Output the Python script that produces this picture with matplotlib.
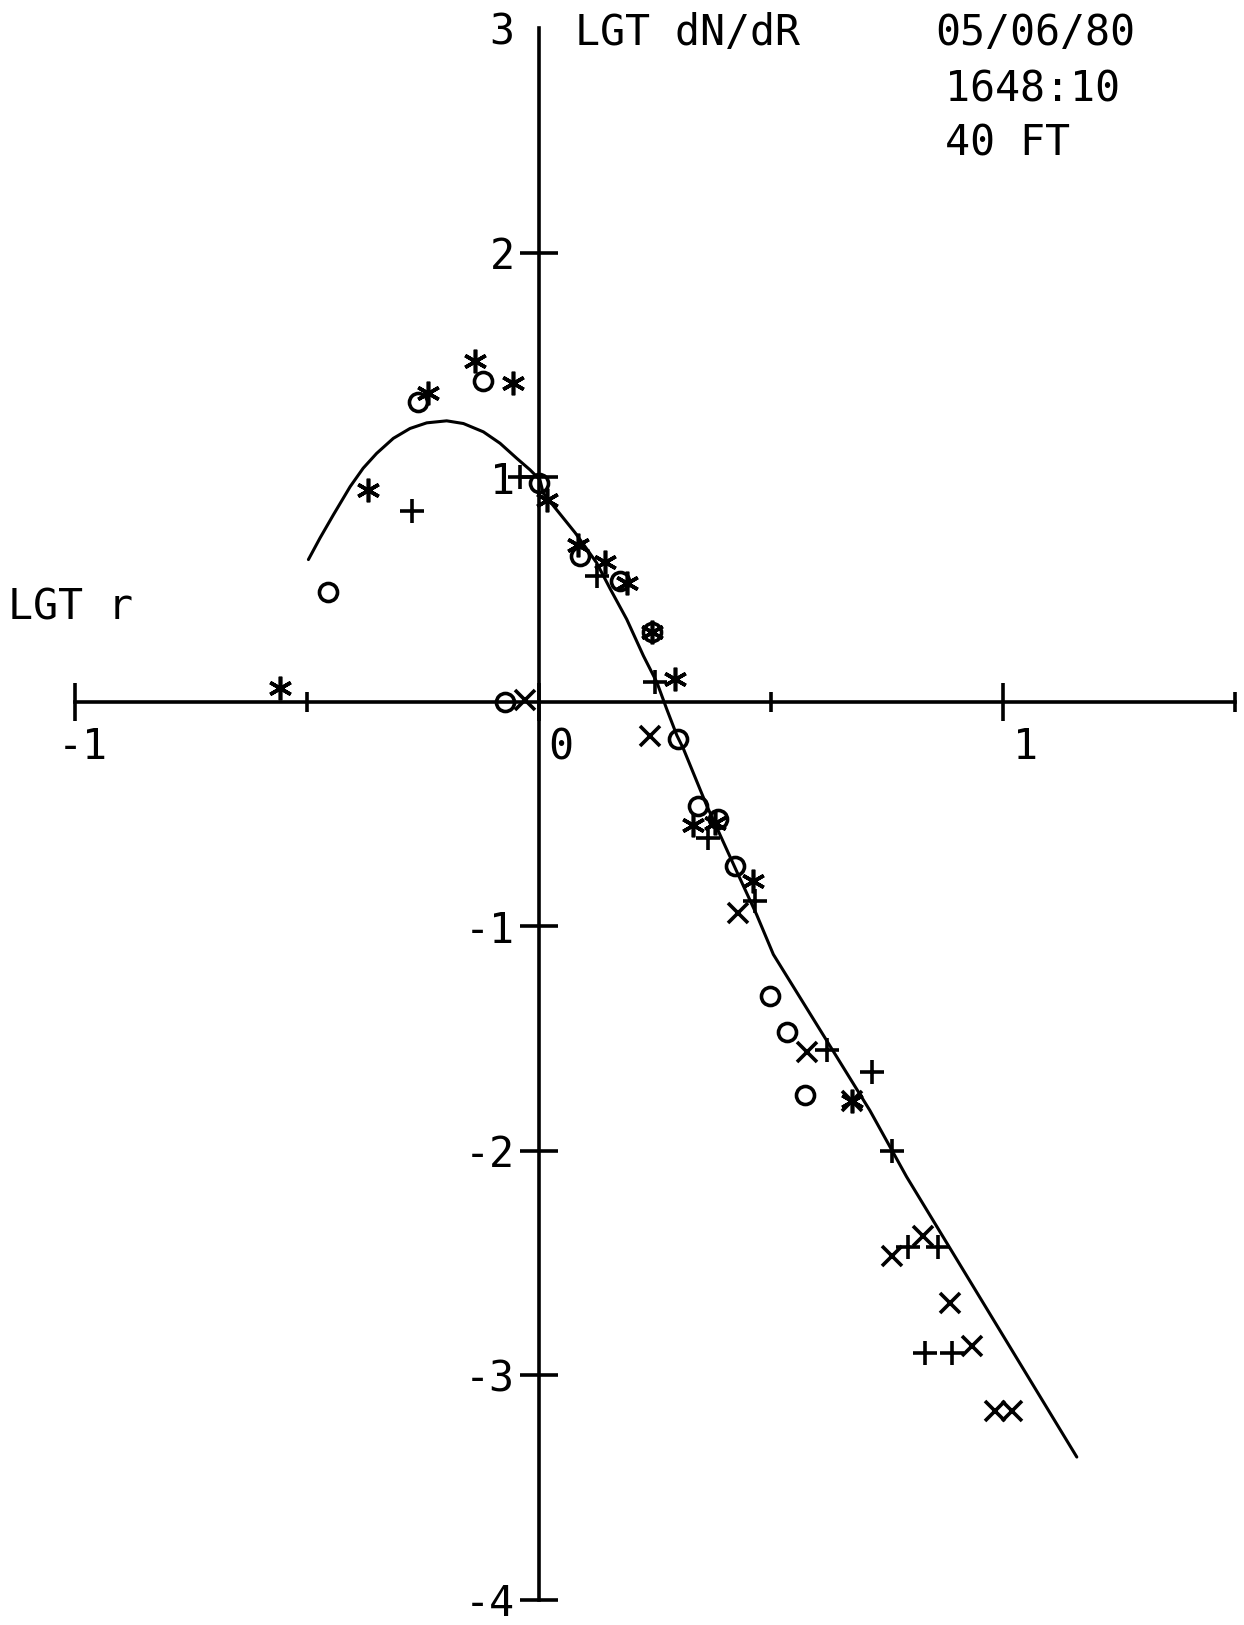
import matplotlib
matplotlib.use("Agg")
import matplotlib.pyplot as plt
from matplotlib.transforms import ScaledTranslation

# fitted curve (LGT r, LGT dN/dR)
curve_x = [-0.497, -0.472, -0.443, -0.407, -0.379, -0.350, -0.314, -0.278, -0.242,
           -0.199, -0.163, -0.120, -0.084, -0.048, -0.019, 0.002, 0.009, 0.078,
           0.124, 0.153, 0.189, 0.225, 0.254, 0.275, 0.297, 0.311, 0.361, 0.426,
           0.469, 0.505, 0.620, 0.713, 0.792, 1.159]
curve_y = [0.634, 0.730, 0.834, 0.959, 1.041, 1.107, 1.174, 1.218, 1.243,
           1.252, 1.240, 1.203, 1.152, 1.085, 1.033, 0.989, 0.930, 0.753,
           0.620, 0.505, 0.368, 0.205, 0.087, -0.031, -0.149, -0.208, -0.460, -0.755,
           -0.948, -1.125, -1.509, -1.820, -2.115, -3.364]

# measured points, one list pair per plot symbol
star_x = [-0.558, -0.368, -0.239, -0.138, -0.056, 0.017, 0.084, 0.142, 0.19,
          0.243, 0.293, 0.332, 0.379, 0.461, 0.674]
star_y = [0.06, 0.945, 1.375, 1.52, 1.42, 0.9, 0.70, 0.625, 0.53,
          0.31, 0.10, -0.55, -0.54, -0.80, -1.78]

circle_x = [-0.454, -0.26, -0.12, 0.0, -0.073, 0.088, 0.174, 0.243, 0.30,
            0.342, 0.385, 0.422, 0.497, 0.534, 0.573]
circle_y = [0.49, 1.335, 1.43, 0.975, 0.0, 0.65, 0.54, 0.31, -0.165,
            -0.466, -0.52, -0.73, -1.31, -1.47, -1.75]

plus_x = [-0.273, -0.04, 0.125, 0.25, 0.364, 0.465, 0.62, 0.717, 0.76,
          0.795, 0.86, 0.831, 0.889]
plus_y = [0.85, 1.0, 0.56, 0.09, -0.607, -0.887, -1.55, -1.65, -2.0,
          -2.43, -2.43, -2.90, -2.90]

cross_x = [-0.03, 0.239, 0.428, 0.577, 0.674, 0.76, 0.827, 0.885, 0.934, 0.982, 1.02]
cross_y = [0.01, -0.15, -0.94, -1.56, -1.78, -2.47, -2.38, -2.68, -2.87, -3.16, -3.16]

xtick_vals = [-1, 0, 1]
xtick_labels = ["-1", "0", "1"]
ytick_vals = [-4, -3, -2, -1, 1, 2, 3]
ytick_labels = ["-4", "-3", "-2", "-1", "1", "2", "3"]

FONT = "DejaVu Sans Mono"
FS = 30

fig = plt.figure(figsize=(12.44, 16.25), dpi=100)
# y=3 sits ~28 px from the top, y=-4 ~1600 px
ax = fig.add_axes([0.0603, 0.0155, 0.9325, 0.967])
ax.set_xlim(-1, 1.5)
ax.set_ylim(-4, 3)

# axes crossing at the origin
for side in ["top", "right"]:
    ax.spines[side].set_visible(False)
ax.spines["left"].set_position(("data", 0))
ax.spines["bottom"].set_position(("data", 0))
ax.spines["left"].set_linewidth(2.6)
ax.spines["bottom"].set_linewidth(2.6)

ax.set_xticks(xtick_vals)
ax.set_xticklabels(xtick_labels, fontsize=FS, family=FONT)
ax.set_xticks([-0.5, 0.5, 1.5], minor=True)
ax.set_yticks(ytick_vals)
ax.set_yticklabels(ytick_labels, fontsize=FS, family=FONT)
ax.tick_params(axis="x", which="major", direction="inout", length=27, width=2.6, pad=4)
ax.tick_params(axis="x", which="minor", direction="inout", length=14, width=2.6)
ax.tick_params(axis="y", which="major", direction="inout", length=27, width=2.6, pad=4)

# no tick mark at the top of the y axis, only the label
ax.yaxis.get_major_ticks()[-1].tick1line.set_visible(False)

# plotter put the x labels a bit right of the ticks
shifts = [0.08, 0.22, 0.22]
for lab, dx in zip(ax.get_xticklabels(), shifts):
    lab.set_transform(lab.get_transform() + ScaledTranslation(dx, 0, fig.dpi_scale_trans))

ax.plot(curve_x, curve_y, color="black", lw=2.2, solid_capstyle="round",
        solid_joinstyle="round")

mk = dict(linestyle="none", color="black", clip_on=False)
ax.plot(star_x, star_y, marker=(6, 2, 0), markersize=17, markeredgewidth=2.6, **mk)
ax.plot(circle_x, circle_y, marker="o", markersize=13, markeredgewidth=2.6,
        markerfacecolor="none", **mk)
ax.plot(plus_x, plus_y, marker="+", markersize=17, markeredgewidth=2.6, **mk)
ax.plot(cross_x, cross_y, marker="x", markersize=14, markeredgewidth=2.6, **mk)

# labels and run info, placed in figure pixels like the plotter did
W, H = 1244, 1625
def put(px, py, s):
    fig.text(px / W, 1 - py / H, s, fontsize=FS, family=FONT, ha="left", va="center")

put(575, 33, "LGT dN/dR")
put(935, 33, "05/06/80")
put(945, 90, "1648:10")
put(945, 143, "40 FT")
put(8, 607, "LGT r")

fig.savefig("out.png", dpi=100)
